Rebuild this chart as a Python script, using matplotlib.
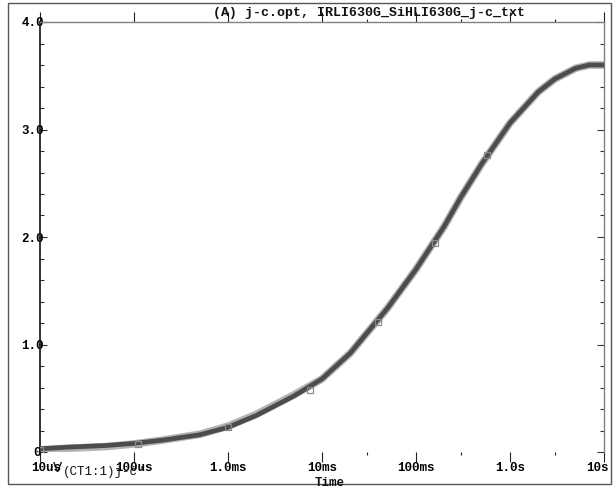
import numpy as np
import matplotlib
matplotlib.use("Agg")
import matplotlib.pyplot as plt
from matplotlib.ticker import FixedLocator, MultipleLocator
from matplotlib.patches import Rectangle
from matplotlib.transforms import ScaledTranslation

# ---- data ----
time_s = [1e-5, 2e-5, 5e-5, 1e-4, 2e-4, 5e-4, 1e-3, 2e-3, 5e-3, 1e-2, 2e-2,
          5e-2, 1e-1, 2e-1, 3e-1, 5e-1, 1.0, 2.0, 3.0, 5.0, 7.0, 10.0]
v_model = [0.03, 0.045, 0.06, 0.08, 0.11, 0.16, 0.23, 0.34, 0.52, 0.68, 0.92,
           1.34, 1.70, 2.10, 2.37, 2.68, 3.06, 3.35, 3.47, 3.57, 3.60, 3.60]
v_meas = [0.02, 0.035, 0.05, 0.075, 0.11, 0.165, 0.24, 0.35, 0.53, 0.68, 0.92,
          1.34, 1.70, 2.10, 2.37, 2.68, 3.06, 3.35, 3.47, 3.57, 3.60, 3.60]
marker_t = [1e-5, 1.1e-4, 1e-3, 7.5e-3, 3.9e-2, 1.6e-1, 5.7e-1]
marker_v = [0.02, 0.075, 0.23, 0.58, 1.21, 1.94, 2.76]

x_ticks = [1e-5, 1e-4, 1e-3, 1e-2, 1e-1, 1.0, 10.0]
x_labels = ["10us", "100us", "1.0ms", "10ms", "100ms", "1.0s", "10s"]
x_minor = [3e-2, 3e-1, 3.0]
y_ticks = [0, 1, 2, 3, 4]
y_labels = ["0", "1.0", "2.0", "3.0", "4.0"]

title = "(A) j-c.opt, IRLI630G_SiHLI630G_j-c_txt"
trace_name = "(CT1:1)j-c\""

W, H = 613, 487
fig = plt.figure(figsize=(W / 100, H / 100), dpi=100)
fig.patch.set_facecolor("white")
ax = fig.add_axes([40 / W, (H - 452) / H, (604 - 40) / W, (452 - 22) / H])

ax.plot(time_s, v_meas, color="#b4b4b4", lw=5.5, solid_capstyle="butt", zorder=2)
ax.plot(time_s, v_model, color="#4c4c4c", lw=3.4, solid_capstyle="butt", zorder=3)
ax.plot(marker_t, marker_v, ls="none", marker="s", ms=4, mfc="none",
        mec="#8a8a8a", mew=0.9, zorder=4)

ax.set_xscale("log")
ax.set_xlim(1e-5, 10)
ax.set_ylim(0, 4)

mono = dict(family="Liberation Mono", fontweight="bold", fontsize=9)

ax.xaxis.set_major_locator(FixedLocator(x_ticks))
ax.xaxis.set_minor_locator(FixedLocator(x_minor))
ax.set_xticklabels(x_labels, **mono)
ax.yaxis.set_major_locator(FixedLocator(y_ticks))
ax.yaxis.set_minor_locator(MultipleLocator(0.2))
ax.set_yticklabels(y_labels, **mono)

ax.tick_params(axis="x", which="both", direction="out", top=True, bottom=True,
               color="#222222", width=0.8)
ax.tick_params(axis="x", which="major", length=7, pad=0.5)
ax.tick_params(axis="x", which="minor", length=2)
ax.tick_params(axis="y", which="both", direction="in", left=True, right=True,
               color="#333333", width=0.8)
ax.tick_params(axis="y", which="major", length=5, pad=-3)
ax.tick_params(axis="y", which="minor", length=3)

# keep the end labels inside the plot frame, as in the reference
xl = ax.get_xticklabels()
xl[0].set_transform(xl[0].get_transform() + ScaledTranslation(6 / 100, 0, fig.dpi_scale_trans))
xl[-1].set_transform(xl[-1].get_transform() + ScaledTranslation(-7 / 100, 0, fig.dpi_scale_trans))
yl = ax.get_yticklabels()
yl[0].set_transform(yl[0].get_transform() + ScaledTranslation(-3 / 100, 0, fig.dpi_scale_trans))

ax.spines["bottom"].set_visible(False)
ax.spines["left"].set_color("#111111")
ax.spines["left"].set_linewidth(1.2)
ax.spines["top"].set_color("#808080")
ax.spines["right"].set_color("#808080")
ax.spines["top"].set_linewidth(1.0)
ax.spines["right"].set_linewidth(1.0)

# outer frame
fig.add_artist(Rectangle((8 / W, 1 - 484 / H), (611 - 8) / W, (484 - 3) / H,
                         transform=fig.transFigure, fill=False,
                         edgecolor="#555555", lw=1.0))

fig.text(213 / W, 1 - 13 / H, title, ha="left", va="center",
         family="Liberation Mono", fontweight="bold", fontsize=9.5, color="#111111")
fig.text(53 / W, 1 - 468 / H, "V", ha="left", va="center",
         family="Liberation Mono", fontsize=11, color="#111111")
fig.text(63 / W, 1 - 472 / H, trace_name, ha="left", va="center",
         family="Liberation Mono", fontsize=9, color="#111111")
fig.text(330 / W, 1 - 483 / H, "Time", ha="center", va="center",
         family="Liberation Mono", fontweight="bold", fontsize=9, color="#111111")

fig.savefig("out.png", dpi=100, facecolor="white")
